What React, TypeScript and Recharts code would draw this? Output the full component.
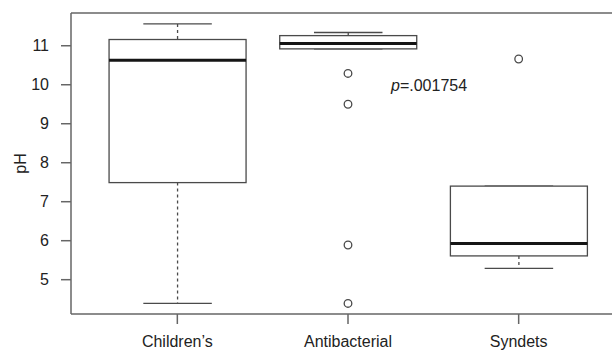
import {
  ComposedChart,
  Bar,
  Scatter,
  XAxis,
  YAxis,
  ReferenceLine,
} from "recharts";

const categories = ["Children\u2019s", "Antibacterial", "Syndets"];
const whiskerLow = [4.39, 10.92, 5.29];
const q1 = [7.49, 10.92, 5.61];
const median = [10.63, 11.06, 5.93];
const q3 = [11.16, 11.26, 7.4];
const whiskerHigh = [11.56, 11.34, 7.4];

const outlierGroups = ["Antibacterial", "Antibacterial", "Antibacterial", "Antibacterial", "Syndets"];
const outlierValues = [10.29, 9.5, 5.89, 4.39, 10.66];

const yTicks = [5, 6, 7, 8, 9, 10, 11];
const yDomain = [4.12, 11.84];
const pLabel = ".001754";

const boxRows = categories.map((name, i) => ({
  name,
  range: [whiskerLow[i], whiskerHigh[i]],
  q1: q1[i],
  median: median[i],
  q3: q3[i],
}));

const outlierRows = outlierGroups.map((name, i) => ({ name, value: outlierValues[i] }));

const FONT = '"Liberation Sans", Arial, Helvetica, sans-serif';
const LINE = "#4a4a4a";

function BoxShape(props: any) {
  const { x, y, width, height, payload } = props;
  const [lo, hi] = payload.range;
  const top = Math.min(y, y + height);
  const h = Math.abs(height);
  // linear map inside the whisker span drawn by the bar
  const py = (v: number) => (hi === lo ? top : top + (h * (hi - v)) / (hi - lo));
  const cx = x + width / 2;
  const capHalf = width / 4;
  const yHi = py(hi);
  const yQ3 = py(payload.q3);
  const yMed = py(payload.median);
  const yQ1 = py(payload.q1);
  const yLo = py(lo);
  return (
    <g>
      <line x1={cx} x2={cx} y1={yHi} y2={yQ3} stroke={LINE} strokeWidth={1.3} strokeDasharray="3 3" />
      <line x1={cx} x2={cx} y1={yQ1} y2={yLo} stroke={LINE} strokeWidth={1.3} strokeDasharray="3 3" />
      <line x1={cx - capHalf} x2={cx + capHalf} y1={yHi} y2={yHi} stroke={LINE} strokeWidth={1.3} />
      <line x1={cx - capHalf} x2={cx + capHalf} y1={yLo} y2={yLo} stroke={LINE} strokeWidth={1.3} />
      <rect x={x} y={yQ3} width={width} height={yQ1 - yQ3} fill="#fff" stroke={LINE} strokeWidth={1.3} />
      <line x1={x} x2={x + width} y1={yMed} y2={yMed} stroke="#151515" strokeWidth={3} />
    </g>
  );
}

function OutlierDot(props: any) {
  const { cx, cy } = props;
  return <circle cx={cx} cy={cy} r={3.8} fill="#fff" stroke={LINE} strokeWidth={1.3} />;
}

export default function App() {
  return (
    <div style={{ position: "absolute", left: 0, top: 0, width: 612, height: 351, background: "#fff", overflow: "hidden" }}>
      <ComposedChart
        width={612}
        height={351}
        data={boxRows}
        margin={{ top: 13, right: 0, bottom: 0, left: 0 }}
        barCategoryGap="10%"
        style={{ fontFamily: FONT }}
      >
        <XAxis
          dataKey="name"
          type="category"
          allowDuplicatedCategory={false}
          height={37}
          padding={{ left: 21, right: 8 }}
          tickSize={10}
          tickMargin={12}
          stroke="#666"
          strokeWidth={1.5}
          tick={{ fill: "#222", fontSize: 16, fontFamily: FONT }}
        />
        <YAxis
          type="number"
          domain={yDomain}
          ticks={yTicks}
          allowDataOverflow
          width={71}
          tickSize={10}
          tickMargin={12}
          stroke="#666"
          strokeWidth={1.5}
          tick={{ fill: "#222", fontSize: 16, fontFamily: FONT }}
          label={{
            content: ({ viewBox }: any) => (
              <text
                x={viewBox.x + 20}
                y={viewBox.y + viewBox.height / 2}
                transform={`rotate(-90 ${viewBox.x + 20} ${viewBox.y + viewBox.height / 2})`}
                textAnchor="middle"
                dominantBaseline="central"
                fill="#222"
                fontSize={16}
                fontFamily={FONT}
              >
                pH
              </text>
            ),
          }}
        />
        <ReferenceLine y={yDomain[1]} stroke="#666" strokeWidth={1.5} />
        <Bar dataKey="range" shape={<BoxShape />} isAnimationActive={false} />
        <Scatter data={outlierRows} dataKey="value" shape={<OutlierDot />} isAnimationActive={false} />
      </ComposedChart>
      <svg width={612} height={351} style={{ position: "absolute", left: 0, top: 0, pointerEvents: "none" }}>
        <text x={391} y={91} fontSize={16} fontFamily={FONT} fill="#222">
          <tspan fontStyle="italic">p</tspan>={pLabel}
        </text>
      </svg>
    </div>
  );
}
